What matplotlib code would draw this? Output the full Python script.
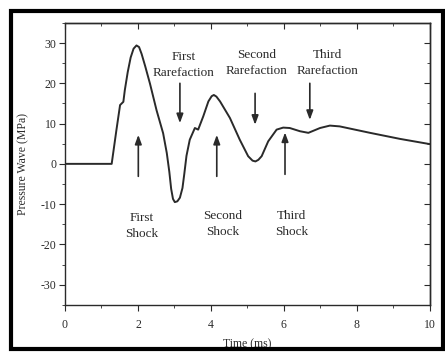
import matplotlib
matplotlib.use("Agg")
import matplotlib.pyplot as plt
from matplotlib.patches import Rectangle
from matplotlib.ticker import MultipleLocator

plt.rcParams['font.family'] = ['Liberation Serif', 'DejaVu Serif']
plt.rcParams['axes.unicode_minus'] = False

# pressure trace (time in ms, pressure in MPa)
time_ms = [0.0, 1.28, 1.41, 1.51, 1.60, 1.64, 1.72, 1.80, 1.88, 1.96, 2.03,
           2.10, 2.20, 2.33, 2.51, 2.69, 2.79, 2.86, 2.91, 2.96, 3.01, 3.08,
           3.15, 3.22, 3.27, 3.33, 3.42, 3.56, 3.65, 3.79, 3.93, 4.02, 4.08,
           4.15, 4.25, 4.52, 4.79, 5.02, 5.14, 5.22, 5.30, 5.39, 5.57, 5.80,
           5.98, 6.16, 6.44, 6.67, 6.99, 7.26, 7.53, 8.36, 9.18, 10.0]
pressure = [0.0, 0.0, 8.4, 14.6, 15.4, 18.3, 22.8, 26.4, 28.6, 29.4, 29.0,
            27.3, 24.2, 19.9, 13.3, 7.6, 2.7, -2.0, -6.2, -8.7, -9.5, -9.3,
            -8.4, -6.0, -2.5, 2.0, 6.0, 8.9, 8.5, 11.8, 15.5, 16.8, 17.1,
            16.7, 15.5, 11.4, 6.0, 1.9, 0.8, 0.6, 1.0, 1.9, 5.6, 8.5,
            9.0, 8.9, 8.1, 7.7, 8.9, 9.5, 9.3, 7.7, 6.2, 4.9]

# annotations: label, text x, text y, arrow x, arrow tail y, arrow head y
labels = ["First\nShock", "Second\nShock", "Third\nShock",
          "First\nRarefaction", "Second\nRarefaction", "Third\nRarefaction"]
label_x = [2.10, 4.33, 6.21, 3.24, 5.25, 7.19]
label_y = [-15.5, -14.9, -14.9, 24.6, 25.0, 25.0]
arrow_x = [2.01, 4.16, 6.03, 3.15, 5.21, 6.71]
arrow_from = [-3.1, -3.1, -2.6, 20.0, 17.5, 20.0]
arrow_to = [7.2, 7.2, 7.8, 10.1, 9.7, 10.9]

ink = '#2a2a2a'

fig = plt.figure(figsize=(4.45, 3.52), dpi=100)
ax = fig.add_axes([0.146, 0.134, 0.82, 0.801])

ax.plot(time_ms, pressure, color=ink, lw=1.4)

for i in range(len(labels)):
    ax.annotate("", xy=(arrow_x[i], arrow_to[i]), xytext=(arrow_x[i], arrow_from[i]),
                arrowprops=dict(arrowstyle='-|>,head_length=0.6,head_width=0.22',
                                color=ink, lw=1.2, mutation_scale=9,
                                shrinkA=0, shrinkB=0))
    ax.text(label_x[i], label_y[i], labels[i], ha='center', va='center',
            fontsize=9.5, linespacing=1.4, color=ink)

ax.set_xlim(0, 10)
ax.set_ylim(-35, 35)
ax.xaxis.set_major_locator(MultipleLocator(2))
ax.xaxis.set_minor_locator(MultipleLocator(1))
ax.yaxis.set_major_locator(MultipleLocator(10))
ax.yaxis.set_minor_locator(MultipleLocator(5))
ax.tick_params(which='both', direction='out', labelsize=8.5, colors=ink)
ax.tick_params(which='major', length=4)
ax.tick_params(which='minor', length=2.5)
ax.tick_params(axis='x', pad=6)
ax.tick_params(axis='y', pad=2)

# top and right get inward ticks, no labels
top = ax.secondary_xaxis('top')
top.xaxis.set_major_locator(MultipleLocator(2))
top.xaxis.set_minor_locator(MultipleLocator(1))
top.tick_params(which='both', direction='in', labeltop=False, colors=ink)
top.tick_params(which='major', length=4)
top.tick_params(which='minor', length=2.5)
right = ax.secondary_yaxis('right')
right.yaxis.set_major_locator(MultipleLocator(10))
right.yaxis.set_minor_locator(MultipleLocator(5))
right.tick_params(which='both', direction='in', labelright=False, colors=ink)
right.tick_params(which='major', length=4)
right.tick_params(which='minor', length=2.5)

for a in (ax, top, right):
    for s in a.spines.values():
        s.set_color(ink)
        s.set_linewidth(1.0)

ax.set_xlabel("Time (ms)", fontsize=8.5, color=ink)
ax.set_ylabel("Pressure Wave (MPa)", fontsize=8.5, color=ink)
ax.xaxis.set_label_coords(0.5, -0.117)
ax.yaxis.set_label_coords(-0.097, 0.5)

# black frame round the whole figure
fig.patches.append(Rectangle((10.5 / 445, 3 / 352), 432 / 445, 338.5 / 352,
                             transform=fig.transFigure, fill=False,
                             edgecolor='black', lw=3))

fig.savefig("out.png", dpi=100)
